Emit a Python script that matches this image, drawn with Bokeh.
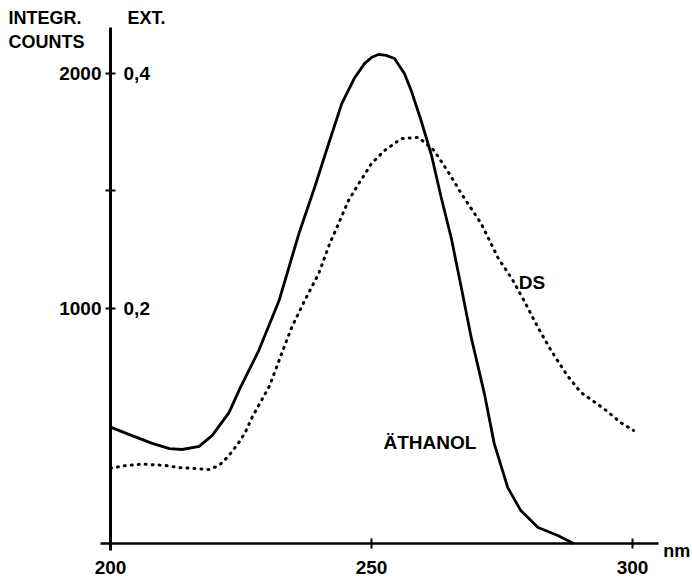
from bokeh.plotting import figure
from bokeh.models import Range1d, FixedTicker
from bokeh.core.properties import value
from bokeh.embed import file_html
from bokeh.resources import INLINE

# --- data ---
wl_eth = [200, 204, 208, 211.3, 213.7, 217, 219.5, 222.7, 224.8, 228.4, 232.3, 236.1,
          239.1, 241.8, 244.3, 246.8, 248.7, 250.0, 251.3, 252.8, 254.4, 256.3, 257.6,
          259.5, 261.5, 263.4, 265.3, 267.2, 269.1, 271.6, 273.5, 276.1, 278.6, 281.9,
          285.7, 288.7]
counts_eth = [495, 460, 426, 404, 400, 413, 460, 557, 660, 821, 1034, 1319,
              1515, 1702, 1872, 1983, 2043, 2068, 2081, 2077, 2064, 2000, 1928,
              1800, 1651, 1468, 1298, 1089, 877, 640, 426, 238, 140, 68,
              34, 0]

wl_ds = [200, 203, 206, 210.5, 213.2, 216.2, 218.9, 220.8, 222.7, 224.6, 225.8, 227.1,
         228.6, 230.5, 232.8, 234.7, 237.2, 239.9, 242, 243.7, 245.6, 247.7, 250,
         252.5, 255.7, 259, 262, 264.9, 267.2, 271, 274.2, 277.1, 279.2, 281.9,
         284.4, 287.5, 290.1, 294.5, 297.7, 300.2]
counts_ds = [320, 332, 338, 332, 323, 319, 315, 332, 374, 430, 472, 536,
             596, 672, 809, 919, 1034, 1149, 1277, 1362, 1460, 1536, 1617,
             1672, 1723, 1728, 1672, 1574, 1489, 1362, 1217, 1119, 1034, 919,
             821, 715, 643, 574, 515, 481]

x_ticks = [200, 250, 300]
y_ticks = [1000, 1500, 2000]
y_tick_labels = {1000: "1000", 1500: "", 2000: "2000"}
ext_counts = [1000, 2000]
ext_labels = ["0,2", "0,4"]

FONT = "Liberation Sans"

p = figure(width=692, height=581, x_range=Range1d(178.93, 311.49),
           y_range=Range1d(-161.7, 2310.6),
           output_backend="svg", toolbar_location=None,
           min_border=0, min_border_left=0, min_border_right=0,
           min_border_top=0, min_border_bottom=0)
p.outline_line_color = None
p.xgrid.visible = False
p.ygrid.visible = False
p.background_fill_color = "white"
p.border_fill_color = "white"

for ax in (p.xaxis[0], p.yaxis[0]):
    ax.axis_line_color = "black"
    ax.major_tick_line_color = "black"
    ax.major_tick_line_width = 2
    ax.major_tick_in = 5
    ax.major_tick_out = 5
    ax.minor_tick_line_color = None
    ax.major_label_text_font = FONT
    ax.major_label_text_font_size = "19px"
    ax.major_label_text_font_style = "bold"
    ax.major_label_text_color = "black"

p.xaxis.fixed_location = 0
p.xaxis.bounds = (198, 305)
p.xaxis.axis_line_width = 2.5
p.xaxis.ticker = FixedTicker(ticks=x_ticks)
p.xaxis.major_label_standoff = 13

p.yaxis.fixed_location = 200
p.yaxis.bounds = (-30, 2196)
p.yaxis.axis_line_width = 3
p.yaxis.ticker = FixedTicker(ticks=y_ticks)
p.yaxis.major_label_overrides = y_tick_labels
p.yaxis.major_label_standoff = 4

# curves
p.line(wl_eth, counts_eth, line_color="black", line_width=2.8, line_join="round")
p.line(wl_ds, counts_ds, line_color="black", line_width=3, line_dash="1 6",
       line_cap="round", line_join="round")

# secondary scale labels (extinction)
p.text(x=[202.5] * len(ext_counts), y=ext_counts, text=ext_labels,
       text_font=value(FONT), text_font_size="19px", text_font_style="bold",
       text_baseline="middle", text_align="left", text_color="black")

# curve labels
p.text(x=[278.2], y=[1111], text=["DS"], text_font=value(FONT), text_font_size="19px",
       text_font_style="bold", text_baseline="middle", text_color="black")
p.text(x=[252.3], y=[430], text=["ÄTHANOL"], text_font=value(FONT), text_font_size="19px",
       text_font_style="bold", text_baseline="middle", text_color="black")

# axis titles
p.text(x=[180.46, 180.46, 203.26, 305.9], y=[2238, 2136, 2238, -30],
       text=["INTEGR.", "COUNTS", "EXT.", "nm"], text_font=value(FONT),
       text_font_size="18px", text_font_style="bold", text_baseline="middle",
       text_align="left", text_color="black")

open("out.html", "w").write(file_html(p, INLINE))
